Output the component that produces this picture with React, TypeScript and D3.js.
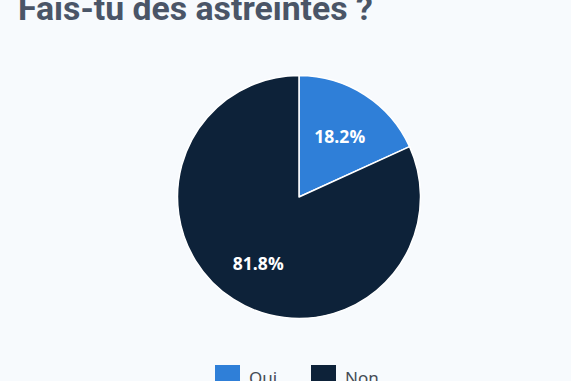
import React from "react";
import * as d3 from "d3";

const categories = ["Oui", "Non"];
const values = [18.2, 81.8];
const colors = ["#2f7fd8", "#0d2239"];

export default function App() {
  const W = 571, H = 381;
  const cx = 299, cy = 197, R = 121.5;
  const pie = d3.pie<number>().sort(null).value((d) => d);
  const arcs = pie(values);
  const arc = d3.arc<d3.PieArcDatum<number>>().innerRadius(0).outerRadius(R);
  const labelArc = d3.arc<d3.PieArcDatum<number>>().innerRadius(R * 0.62).outerRadius(R * 0.62);
  const legendX = [215, 311];
  return (
    <svg width={W} height={H} style={{ position: "absolute", left: 0, top: 0, background: "#f7fafd" }}>
      <rect width={W} height={H} fill="#f7fafd" />
      <text x={18} y={19.5} fontFamily="Roboto" fontWeight={700} fontSize={33.8} fill="#4a5567">
        Fais-tu des astreintes ?
      </text>
      <g transform={`translate(${cx},${cy})`}>
        {arcs.map((a, i) => (
          <path key={i} d={arc(a) || ""} fill={colors[i]} stroke="#ffffff" strokeWidth={1.5} strokeLinejoin="round" />
        ))}
        {arcs.map((a, i) => {
          const [x, y] = labelArc.centroid(a);
          return (
            <text key={i} x={x} y={y + 2.5} textAnchor="middle" dominantBaseline="central" fontFamily="Open Sans" fontWeight={700} fontSize={17.5} fill="#ffffff">
              {values[i].toFixed(1)}%
            </text>
          );
        })}
      </g>
      {categories.map((c, i) => (
        <g key={c}>
          <rect x={legendX[i]} y={365} width={25} height={25} fill={colors[i]} />
          <text x={legendX[i] + 34} y={384} fontFamily="Noto Sans" fontSize={17} fill="#444b55">
            {c}
          </text>
        </g>
      ))}
    </svg>
  );
}
